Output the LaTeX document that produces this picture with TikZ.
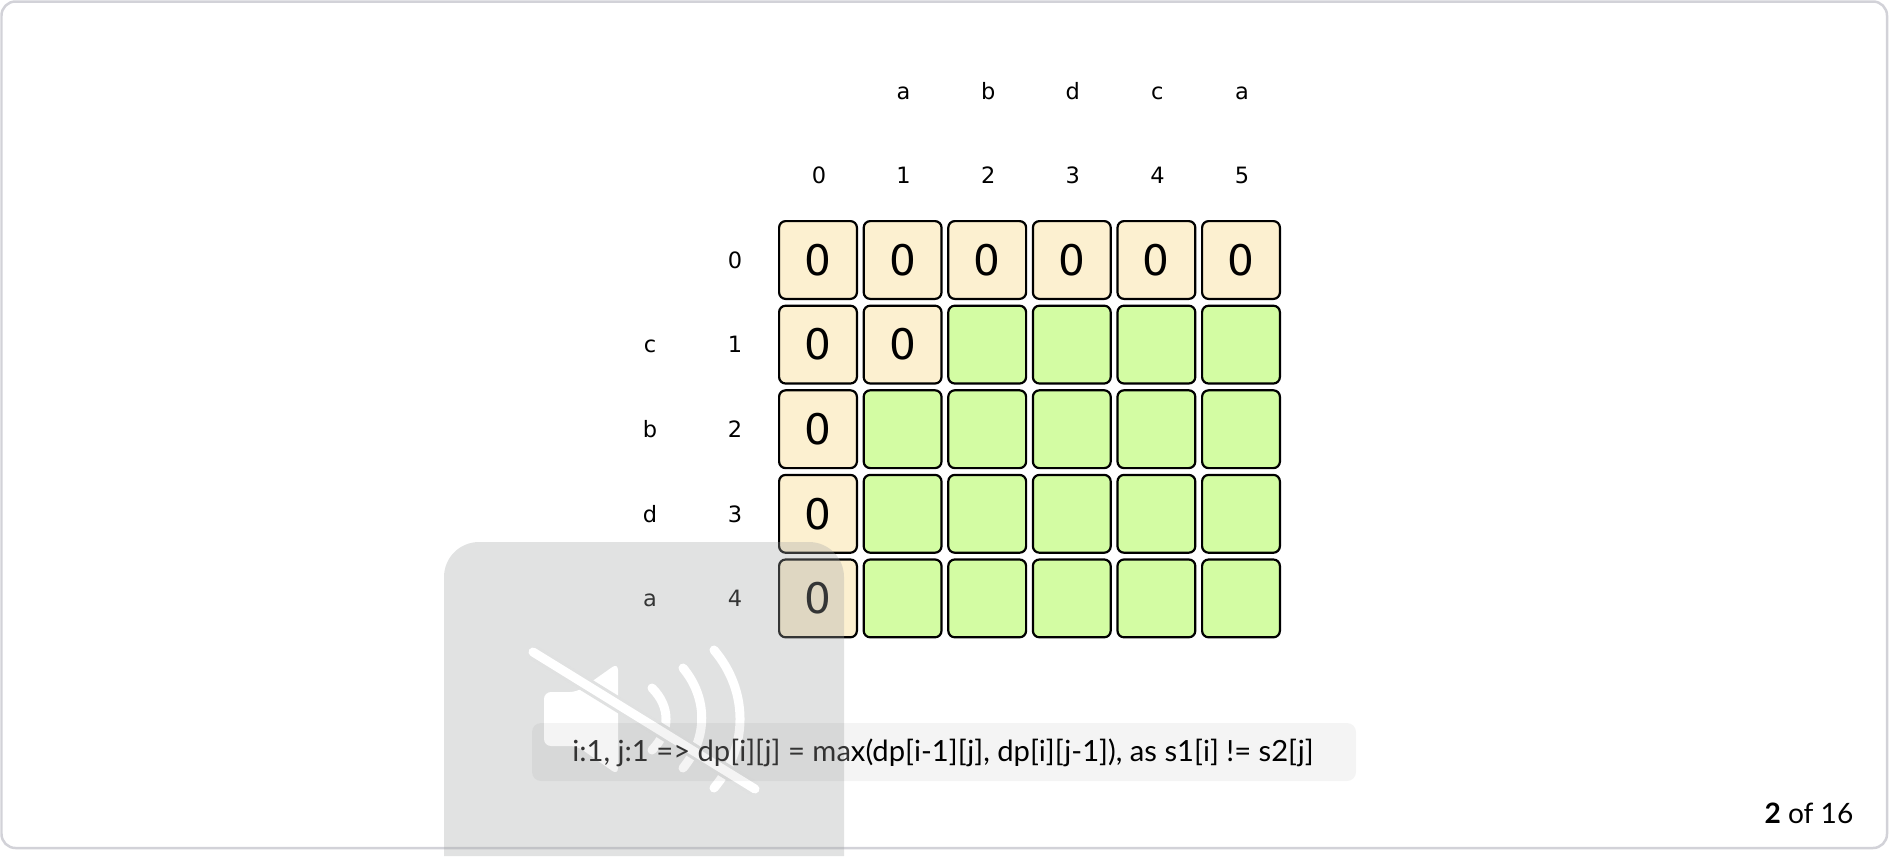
\documentclass[tikz,border=0pt]{standalone}
\usepackage{fontspec}
\setmainfont{Lato}
\newfontfamily\gridfont{DejaVu Sans}
\definecolor{framegray}{HTML}{D2D2D8}
\definecolor{creamcell}{HTML}{FCF0D0}
\definecolor{greencell}{HTML}{D3FCA3}
\definecolor{veilgray}{HTML}{A2A5A5}
\definecolor{veilgap}{HTML}{E0E1E1}
\definecolor{dimtext}{HTML}{333333}
\tikzset{
  cell/.style={draw=black, line width=0.022cm, rounded corners=0.065cm, minimum size=0.778cm, inner sep=0pt, text height=0.305cm, text depth=0pt, font=\gridfont\fontsize{12}{14}\selectfont},
  cream/.style={cell, fill=creamcell},
  green/.style={cell, fill=greencell},
  axis/.style={inner sep=0pt, text height=0.164cm, text depth=0pt, font=\gridfont\fontsize{6.4}{8}\selectfont},
  iconline/.style={white, line width=0.09cm, line cap=round},
}
\begin{document}
\begin{tikzpicture}
\useasboundingbox (0,0) rectangle (18.9,8.56);
\draw[framegray, line width=0.025cm, rounded corners=0.14cm] (0.015,0.08) rectangle (18.87,8.545);
% top labels
\foreach \jj/\ch in {1/a,2/b,3/d,4/c,5/a}{
    \node[axis] (top\jj) at ({8.19+0.846*\jj},7.65) {\ch};
}
\foreach \jj in {0,1,2,3,4,5}{
    \node[axis] (idxtop\jj) at ({8.19+0.846*\jj},6.81) {\jj};
}
% left labels
\foreach \ii/\ch in {1/c,2/b,3/d,4/a}{
    \node[axis] (left\ii) at (6.50,{5.96-0.846*\ii}) {\ch};
}
\foreach \ii in {0,1,2,3,4}{
    \node[axis] (idxleft\ii) at (7.35,{5.96-0.846*\ii}) {\ii};
}
% table
\foreach \jj in {0,1,2,3,4,5}{
    \node[cream] (cell0\jj) at ({8.18+0.846*\jj},5.96) {0};
}
\foreach \ii in {1,2,3,4}{
    \node[cream] (cell\ii0) at (8.18,{5.96-0.846*\ii}) {0};
}
\node[cream] (cell11) at (9.026,5.114) {0};
\foreach \jj in {2,3,4,5}{
    \node[green] (cell1\jj) at ({8.18+0.846*\jj},5.114) {};
}
\foreach \ii in {2,3,4}{
    \foreach \jj in {1,2,3,4,5}{
        \node[green] (cell\ii\jj) at ({8.18+0.846*\jj},{5.96-0.846*\ii}) {};
    }
}
% muted speaker
\fill[veilgray, fill opacity=0.32] (4.44,0) [rounded corners=0.35cm] -- (4.44,3.14) -- (8.44,3.14) [sharp corners] -- (8.44,0) -- cycle;
\fill[white, rounded corners=0.07cm] (5.44,1.10) -- (5.44,1.64) -- (5.77,1.64) -- (6.18,1.93) -- (6.18,0.81) -- (5.77,1.10) -- cycle;
\draw[iconline] (7.14,2.06) .. controls (7.487,1.65) and (7.487,1.09) .. (7.14,0.68);
\draw[iconline] (6.83,1.88) .. controls (7.08,1.58) and (7.08,1.18) .. (6.83,0.88);
\draw[iconline] (6.52,1.68) .. controls (6.707,1.494) and (6.707,1.246) .. (6.52,1.06);
\draw[veilgap, line width=0.15cm] (5.33,2.04) -- (7.55,0.67);
\draw[iconline] (5.33,2.04) -- (7.55,0.67);
% caption
\fill[black, fill opacity=0.045, rounded corners=0.09cm] (5.32,0.75) rectangle (13.56,1.33);
\node[inner sep=0pt, font=\fontsize{8.3}{10}\selectfont] (caption) at (9.43,1.03) {\textcolor{dimtext}{i:1, j:1 => dp[i][j] = ma}x(dp[i-1][j], dp[i][j-1]), as s1[i] != s2[j]};
\node[anchor=base east, inner sep=0pt, font=\fontsize{8}{10}\selectfont] (counter) at (18.54,0.33) {\textbf{2} of 16};
\end{tikzpicture}
\end{document}
